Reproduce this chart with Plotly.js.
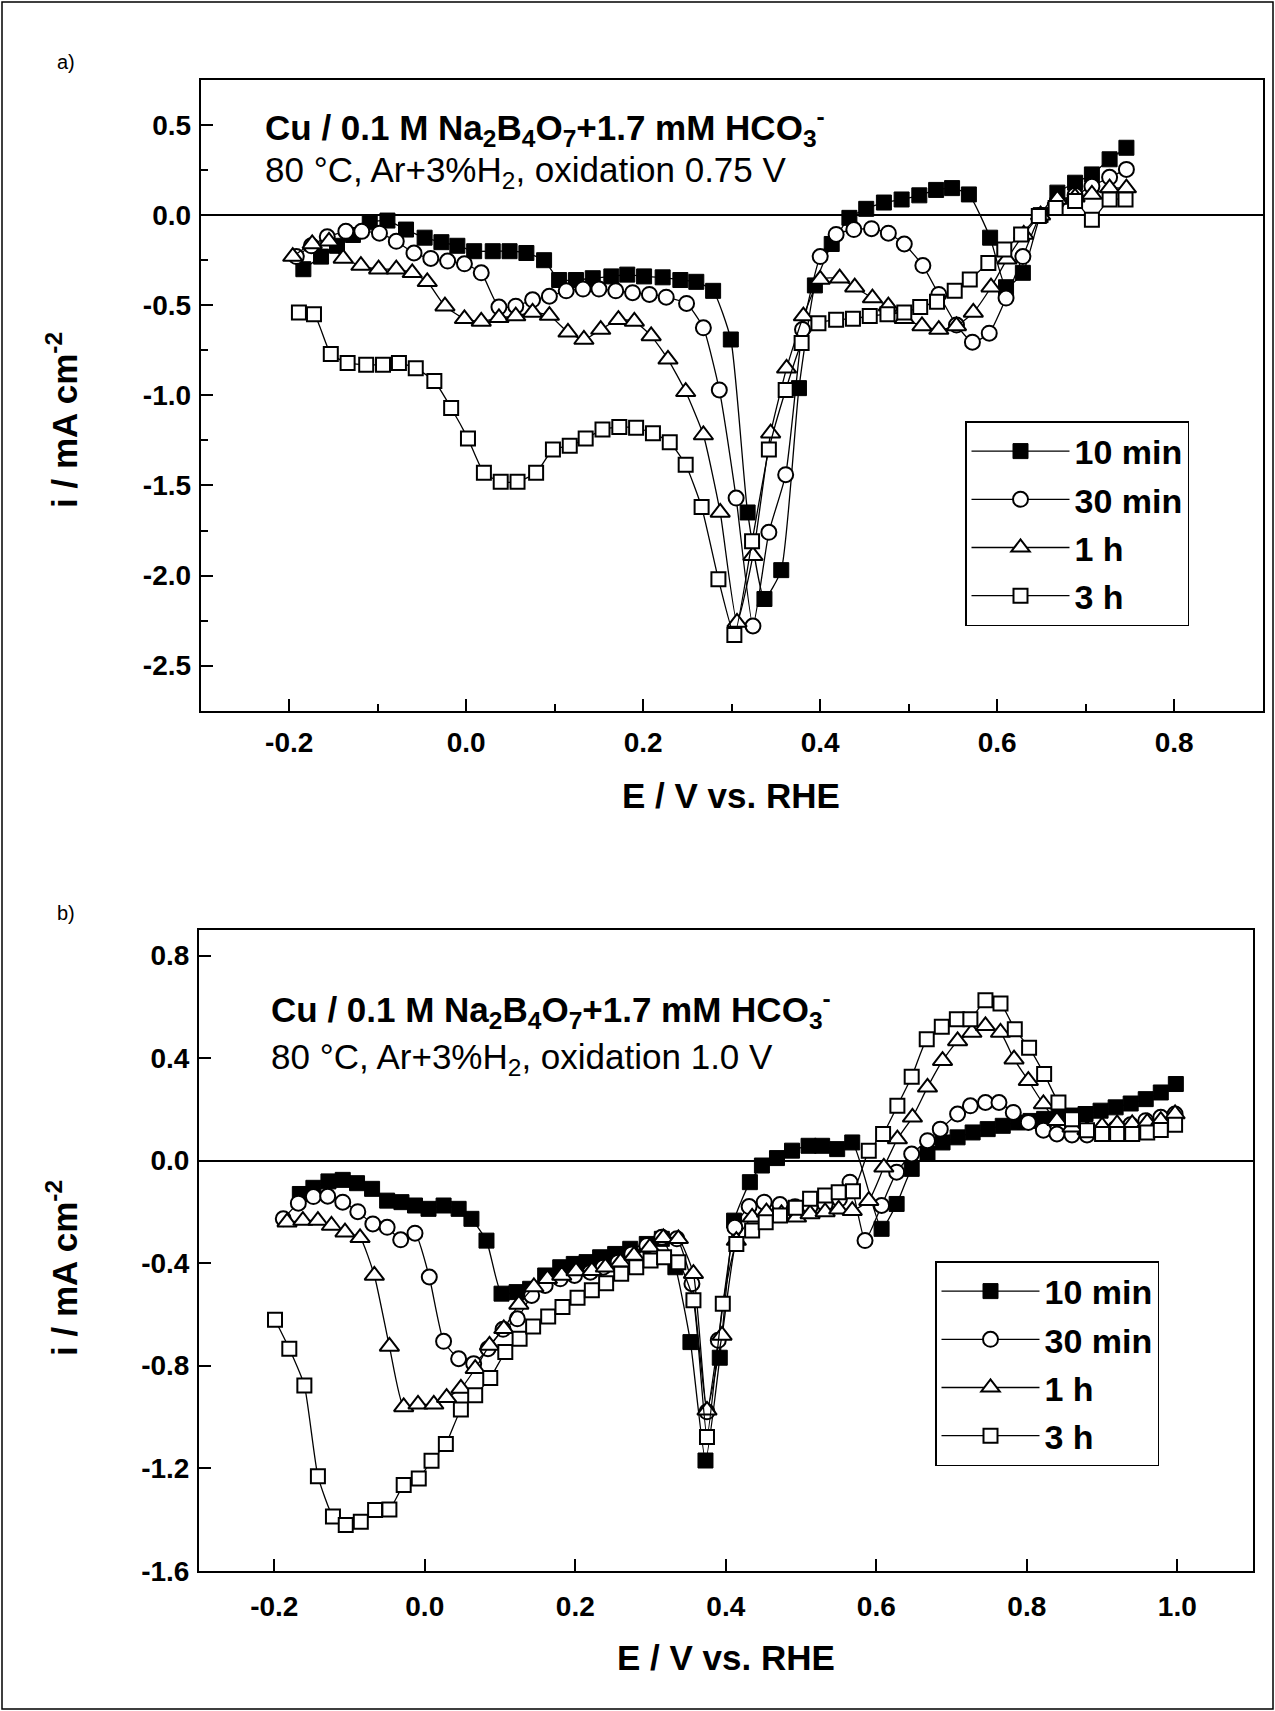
<!DOCTYPE html>
<html>
<head>
<meta charset="utf-8">
<script src="https://cdn.plot.ly/plotly-3.0.1.min.js"></script>
<style>html,body{margin:0;padding:0;background:#fff;}#chart{width:1275px;height:1711px;}</style>
</head>
<body>
<div id="chart"></div>
<script>
// ---------- Panel a data (oxidation 0.75 V) ----------
const seriesNames = ["10 min", "30 min", "1 h", "3 h"];

const a_E_10min = [-0.184,-0.164,-0.146,-0.128,-0.109,-0.089,-0.068,-0.047,-0.028,-0.010,0.009,0.030,0.049,0.068,0.088,0.105,0.124,0.143,0.164,0.182,0.201,0.222,0.242,0.260,0.279,0.299,0.318,0.337,0.356,0.376,0.394,0.413,0.433,0.452,0.472,0.492,0.512,0.531,0.549,0.568,0.592,0.610,0.629,0.649,0.668,0.688,0.707,0.727,0.746];
const a_i_10min = [-0.30,-0.23,-0.17,-0.11,-0.04,-0.03,-0.08,-0.125,-0.15,-0.17,-0.20,-0.20,-0.20,-0.21,-0.25,-0.36,-0.36,-0.35,-0.34,-0.33,-0.34,-0.345,-0.36,-0.37,-0.42,-0.69,-1.65,-2.13,-1.97,-0.96,-0.39,-0.16,-0.015,0.035,0.07,0.087,0.11,0.14,0.15,0.115,-0.125,-0.40,-0.32,0.0,0.125,0.18,0.226,0.31,0.374];

const a_E_30min = [-0.192,-0.175,-0.157,-0.136,-0.118,-0.098,-0.079,-0.059,-0.040,-0.021,-0.002,0.017,0.037,0.056,0.075,0.094,0.113,0.132,0.150,0.169,0.188,0.207,0.226,0.249,0.268,0.286,0.305,0.324,0.342,0.361,0.380,0.400,0.418,0.438,0.458,0.477,0.495,0.516,0.534,0.554,0.572,0.591,0.610,0.629,0.649,0.668,0.688,0.707,0.727,0.746];
const a_i_30min = [-0.23,-0.17,-0.12,-0.09,-0.09,-0.10,-0.145,-0.21,-0.24,-0.255,-0.27,-0.32,-0.51,-0.505,-0.47,-0.45,-0.42,-0.41,-0.41,-0.42,-0.43,-0.44,-0.455,-0.49,-0.625,-0.97,-1.57,-2.28,-1.76,-1.44,-0.635,-0.23,-0.107,-0.08,-0.075,-0.10,-0.16,-0.28,-0.44,-0.61,-0.705,-0.655,-0.46,-0.23,0.0,0.078,0.11,0.16,0.21,0.254];

const a_E_1h = [-0.196,-0.174,-0.155,-0.139,-0.119,-0.099,-0.079,-0.061,-0.044,-0.024,-0.002,0.017,0.037,0.056,0.075,0.094,0.115,0.133,0.152,0.172,0.190,0.209,0.228,0.248,0.268,0.287,0.306,0.324,0.344,0.362,0.381,0.400,0.422,0.439,0.459,0.477,0.495,0.515,0.534,0.554,0.573,0.593,0.611,0.630,0.649,0.668,0.688,0.707,0.727,0.746];
const a_i_1h = [-0.23,-0.16,-0.145,-0.24,-0.28,-0.30,-0.30,-0.32,-0.37,-0.505,-0.575,-0.59,-0.57,-0.56,-0.54,-0.557,-0.65,-0.69,-0.635,-0.58,-0.59,-0.67,-0.80,-0.98,-1.22,-1.65,-2.26,-1.89,-1.21,-0.85,-0.56,-0.357,-0.35,-0.40,-0.46,-0.505,-0.575,-0.615,-0.635,-0.615,-0.54,-0.40,-0.245,-0.107,0.0,0.087,0.10,0.115,0.15,0.15];

const a_E_3h = [-0.189,-0.172,-0.153,-0.134,-0.113,-0.094,-0.076,-0.057,-0.036,-0.017,0.002,0.020,0.039,0.058,0.079,0.098,0.117,0.135,0.154,0.173,0.192,0.211,0.230,0.248,0.266,0.285,0.303,0.323,0.342,0.361,0.379,0.398,0.418,0.437,0.456,0.476,0.495,0.513,0.532,0.552,0.569,0.590,0.608,0.627,0.647,0.666,0.688,0.707,0.727,0.745];
const a_i_3h = [-0.54,-0.55,-0.77,-0.82,-0.83,-0.83,-0.82,-0.85,-0.92,-1.07,-1.24,-1.43,-1.48,-1.48,-1.43,-1.30,-1.28,-1.24,-1.19,-1.175,-1.18,-1.21,-1.26,-1.385,-1.62,-2.02,-2.33,-1.81,-1.30,-0.97,-0.71,-0.60,-0.58,-0.575,-0.56,-0.55,-0.54,-0.51,-0.48,-0.42,-0.357,-0.265,-0.19,-0.107,-0.005,0.04,0.078,-0.025,0.087,0.087];

// ---------- Panel b data (oxidation 1.0 V) ----------
const b_E_10min = [-0.166,-0.148,-0.128,-0.109,-0.090,-0.070,-0.050,-0.031,-0.013,0.005,0.025,0.045,0.062,0.082,0.102,0.122,0.140,0.160,0.180,0.198,0.215,0.233,0.253,0.273,0.295,0.315,0.333,0.353,0.373,0.392,0.411,0.432,0.448,0.468,0.488,0.510,0.528,0.548,0.568,0.607,0.627,0.647,0.668,0.688,0.708,0.728,0.748,0.768,0.788,0.805,0.823,0.843,0.861,0.878,0.898,0.918,0.938,0.958,0.978,0.998];
const b_i_10min = [-0.13,-0.106,-0.081,-0.075,-0.088,-0.110,-0.156,-0.162,-0.175,-0.188,-0.175,-0.188,-0.227,-0.312,-0.519,-0.513,-0.50,-0.448,-0.416,-0.403,-0.396,-0.377,-0.364,-0.344,-0.325,-0.305,-0.416,-0.708,-1.17,-0.769,-0.234,-0.084,-0.019,0.01,0.039,0.058,0.058,0.045,0.071,-0.266,-0.169,-0.032,0.026,0.071,0.091,0.110,0.123,0.136,0.149,0.155,0.163,0.170,0.176,0.182,0.195,0.208,0.223,0.240,0.266,0.299];

const b_E_30min = [-0.188,-0.168,-0.148,-0.129,-0.109,-0.089,-0.069,-0.050,-0.032,-0.013,0.006,0.025,0.045,0.065,0.084,0.104,0.123,0.142,0.160,0.180,0.199,0.220,0.237,0.257,0.275,0.295,0.315,0.335,0.355,0.375,0.390,0.412,0.431,0.451,0.472,0.492,0.512,0.532,0.551,0.565,0.585,0.607,0.627,0.647,0.668,0.685,0.708,0.725,0.745,0.763,0.782,0.802,0.822,0.840,0.860,0.880,0.900,0.918,0.938,0.958,0.978,0.997];
const b_i_30min = [-0.227,-0.166,-0.140,-0.139,-0.162,-0.199,-0.247,-0.260,-0.309,-0.283,-0.454,-0.705,-0.773,-0.792,-0.734,-0.658,-0.617,-0.526,-0.487,-0.461,-0.448,-0.435,-0.416,-0.396,-0.364,-0.331,-0.299,-0.305,-0.480,-0.980,-0.701,-0.260,-0.179,-0.162,-0.171,-0.18,-0.18,-0.17,-0.15,-0.084,-0.312,-0.175,-0.045,0.026,0.078,0.123,0.182,0.214,0.227,0.227,0.188,0.149,0.119,0.104,0.10,0.10,0.12,0.125,0.14,0.156,0.169,0.182];

const b_E_1h = [-0.183,-0.162,-0.142,-0.124,-0.106,-0.086,-0.067,-0.047,-0.028,-0.009,0.012,0.029,0.048,0.067,0.086,0.105,0.125,0.145,0.163,0.182,0.201,0.222,0.240,0.260,0.278,0.299,0.317,0.337,0.357,0.375,0.395,0.414,0.435,0.454,0.474,0.494,0.512,0.532,0.550,0.568,0.590,0.610,0.628,0.648,0.668,0.688,0.708,0.727,0.745,0.765,0.783,0.802,0.822,0.840,0.860,0.880,0.900,0.920,0.940,0.960,0.978,0.997];
const b_i_1h = [-0.240,-0.234,-0.234,-0.253,-0.279,-0.301,-0.448,-0.725,-0.961,-0.951,-0.951,-0.925,-0.889,-0.812,-0.721,-0.656,-0.561,-0.493,-0.461,-0.448,-0.431,-0.43,-0.416,-0.396,-0.370,-0.338,-0.301,-0.305,-0.441,-0.974,-0.682,-0.312,-0.221,-0.201,-0.208,-0.221,-0.208,-0.20,-0.19,-0.195,-0.156,-0.026,0.084,0.169,0.286,0.39,0.467,0.50,0.526,0.50,0.396,0.312,0.221,0.156,0.13,0.12,0.135,0.143,0.143,0.149,0.156,0.182];

const b_E_3h = [-0.199,-0.180,-0.160,-0.142,-0.122,-0.105,-0.085,-0.066,-0.047,-0.028,-0.008,0.009,0.028,0.048,0.067,0.087,0.107,0.126,0.144,0.164,0.183,0.203,0.222,0.241,0.261,0.281,0.300,0.318,0.337,0.357,0.375,0.396,0.414,0.435,0.453,0.472,0.493,0.512,0.532,0.550,0.569,0.590,0.609,0.628,0.647,0.667,0.687,0.707,0.725,0.745,0.765,0.784,0.803,0.823,0.842,0.860,0.880,0.900,0.920,0.940,0.960,0.978,0.997];
const b_i_3h = [-0.621,-0.734,-0.877,-1.231,-1.389,-1.422,-1.409,-1.363,-1.361,-1.266,-1.240,-1.171,-1.106,-0.971,-0.915,-0.848,-0.747,-0.695,-0.647,-0.608,-0.571,-0.535,-0.506,-0.478,-0.441,-0.416,-0.390,-0.377,-0.396,-0.545,-1.078,-0.558,-0.325,-0.273,-0.240,-0.214,-0.184,-0.149,-0.136,-0.123,-0.119,0.039,0.104,0.214,0.327,0.474,0.522,0.552,0.552,0.626,0.613,0.513,0.441,0.338,0.227,0.162,0.119,0.104,0.104,0.104,0.11,0.12,0.14];

// ---------- Tick labels ----------
const a_xTickVals = [-0.2, 0.0, 0.2, 0.4, 0.6, 0.8];
const a_xTickText = ["-0.2", "0.0", "0.2", "0.4", "0.6", "0.8"];
const a_yTickVals = [-2.5, -2.0, -1.5, -1.0, -0.5, 0.0, 0.5];
const a_yTickText = ["-2.5", "-2.0", "-1.5", "-1.0", "-0.5", "0.0", "0.5"];
const b_xTickVals = [-0.2, 0.0, 0.2, 0.4, 0.6, 0.8, 1.0];
const b_xTickText = ["-0.2", "0.0", "0.2", "0.4", "0.6", "0.8", "1.0"];
const b_yTickVals = [-1.6, -1.2, -0.8, -0.4, 0.0, 0.4, 0.8];
const b_yTickText = ["-1.6", "-1.2", "-0.8", "-0.4", "0.0", "0.4", "0.8"];

// ---------- Build ----------
const W = 1275, H = 1711;
const FONT = "Liberation Sans, Arial, Helvetica, sans-serif";
const markerStyles = [
  {symbol: "square", size: 15, color: "black", line: {color: "black", width: 1}},
  {symbol: "circle", size: 15, color: "white", line: {color: "black", width: 2}},
  {symbol: "triangle-up", size: 17, color: "white", line: {color: "black", width: 2}},
  {symbol: "square", size: 14, color: "white", line: {color: "black", width: 2}}
];
const panelA = [[a_E_10min, a_i_10min], [a_E_30min, a_i_30min], [a_E_1h, a_i_1h], [a_E_3h, a_i_3h]];
const panelB = [[b_E_10min, b_i_10min], [b_E_30min, b_i_30min], [b_E_1h, b_i_1h], [b_E_3h, b_i_3h]];

const traces = [];
panelA.forEach((s, k) => traces.push({
  x: s[0], y: s[1], xaxis: "x", yaxis: "y", type: "scatter", mode: "lines+markers",
  name: seriesNames[k], legend: "legend", legendgroup: "a" + k,
  line: {color: "black", width: 1.3, shape: "spline", smoothing: 0.5},
  marker: markerStyles[k]
}));
panelB.forEach((s, k) => traces.push({
  x: s[0], y: s[1], xaxis: "x2", yaxis: "y2", type: "scatter", mode: "lines+markers",
  name: seriesNames[k], legend: "legend2", legendgroup: "b" + k,
  line: {color: "black", width: 1.3, shape: "spline", smoothing: 0.5},
  marker: markerStyles[k]
}));

function px(x) { return x / W; }
function py(y) { return 1 - y / H; }

const tickFont = {family: FONT, size: 28, color: "black", weight: "bold"};
function xAxis(dom, range, vals, text, minor) {
  const ax = {
    domain: dom, range: range, tickmode: "array", tickvals: vals, ticktext: text,
    ticks: "inside", ticklen: 12, tickwidth: 2, tickcolor: "black",
    showline: true, linewidth: 2, linecolor: "black", mirror: true,
    showgrid: false, zeroline: false, tickfont: tickFont, ticklabelstandoff: 6
  };
  if (minor) ax.minor = minor;
  return ax;
}
function yAxis(dom, range, vals, text, minor) {
  const ax = {
    domain: dom, range: range, tickmode: "array", tickvals: vals, ticktext: text,
    ticks: "inside", ticklen: 12, tickwidth: 2, tickcolor: "black",
    showline: true, linewidth: 2, linecolor: "black", mirror: true,
    showgrid: false, zeroline: true, zerolinecolor: "black", zerolinewidth: 2,
    tickfont: tickFont, ticklabelstandoff: 2
  };
  if (minor) ax.minor = minor;
  return ax;
}

const legendBase = {
  bgcolor: "white", bordercolor: "black", borderwidth: 1.5,
  font: {family: FONT, size: 34, color: "black", weight: "bold"},
  xanchor: "left", yanchor: "top", traceorder: "grouped", tracegroupgap: 1,
  itemwidth: 98
};

const annBold = {family: FONT, size: 35, color: "black", weight: "bold"};
const annNorm = {family: FONT, size: 35, color: "black"};
const titleFont = {family: FONT, size: 35, color: "black", weight: "bold"};

const layout = {
  width: W, height: H,
  margin: {l: 0, r: 0, t: 0, b: 0},
  paper_bgcolor: "white", plot_bgcolor: "white",
  showlegend: true,
  xaxis: xAxis([px(200.7), px(1262.7)], [-0.3, 0.9], a_xTickVals, a_xTickText,
               {tickmode: "linear", tick0: 0, dtick: 0.1, ticks: "inside", ticklen: 7, tickwidth: 2, tickcolor: "black"}),
  yaxis: Object.assign(yAxis([py(710.7), py(80)], [-2.75, 0.75], a_yTickVals, a_yTickText,
               {tickmode: "linear", tick0: 0, dtick: 0.25, ticks: "inside", ticklen: 7, tickwidth: 2, tickcolor: "black"}), {anchor: "x"}),
  xaxis2: Object.assign(xAxis([px(199), px(1252.6)], [-0.3, 1.1], b_xTickVals, b_xTickText), {anchor: "y2", ticklabelstandoff: 10}),
  yaxis2: Object.assign(yAxis([py(1570.7), py(930)], [-1.6, 0.9], b_yTickVals, b_yTickText), {anchor: "x2"}),
  legend: Object.assign({}, legendBase, {x: px(965), y: py(421)}),
  legend2: Object.assign({}, legendBase, {x: px(935), y: py(1261)}),
  shapes: [
    {type: "rect", xref: "paper", yref: "paper", x0: px(2), x1: px(1273), y0: py(1709), y1: py(2),
     line: {color: "black", width: 1.5}, fillcolor: "rgba(0,0,0,0)"}
  ],
  annotations: [
    {xref: "paper", yref: "paper", x: px(55), y: py(62), xanchor: "left", yanchor: "middle", showarrow: false,
     text: "a)", font: {family: FONT, size: 20, color: "black"}},
    {xref: "paper", yref: "paper", x: px(55), y: py(913), xanchor: "left", yanchor: "middle", showarrow: false,
     text: "b)", font: {family: FONT, size: 20, color: "black"}},
    {xref: "paper", yref: "paper", x: px(263), y: py(127), xanchor: "left", yanchor: "middle", showarrow: false,
     text: "<b>Cu / 0.1 M Na<sub>2</sub>B<sub>4</sub>O<sub>7</sub>+1.7 mM HCO<sub>3</sub><sup>-</sup></b>", font: annBold},
    {xref: "paper", yref: "paper", x: px(263), y: py(172), xanchor: "left", yanchor: "middle", showarrow: false,
     text: "80 °C, Ar+3%H<sub>2</sub>, oxidation 0.75 V", font: annNorm},
    {xref: "paper", yref: "paper", x: px(269), y: py(1010), xanchor: "left", yanchor: "middle", showarrow: false,
     text: "<b>Cu / 0.1 M Na<sub>2</sub>B<sub>4</sub>O<sub>7</sub>+1.7 mM HCO<sub>3</sub><sup>-</sup></b>", font: annBold},
    {xref: "paper", yref: "paper", x: px(269), y: py(1059), xanchor: "left", yanchor: "middle", showarrow: false,
     text: "80 °C, Ar+3%H<sub>2</sub>, oxidation 1.0 V", font: annNorm},
    {xref: "paper", yref: "paper", x: px(731), y: py(795), xanchor: "center", yanchor: "middle", showarrow: false,
     text: "E / V vs. RHE", font: titleFont},
    {xref: "paper", yref: "paper", x: px(726), y: py(1657), xanchor: "center", yanchor: "middle", showarrow: false,
     text: "E / V vs. RHE", font: titleFont},
    {xref: "paper", yref: "paper", x: px(62), y: py(420), xanchor: "center", yanchor: "middle", showarrow: false,
     textangle: -90, text: "i / mA cm<sup>-2</sup>", font: titleFont},
    {xref: "paper", yref: "paper", x: px(62), y: py(1268), xanchor: "center", yanchor: "middle", showarrow: false,
     textangle: -90, text: "i / mA cm<sup>-2</sup>", font: titleFont}
  ]
};

Plotly.newPlot("chart", traces, layout, {displayModeBar: false, staticPlot: true});
</script>
</body>
</html>
